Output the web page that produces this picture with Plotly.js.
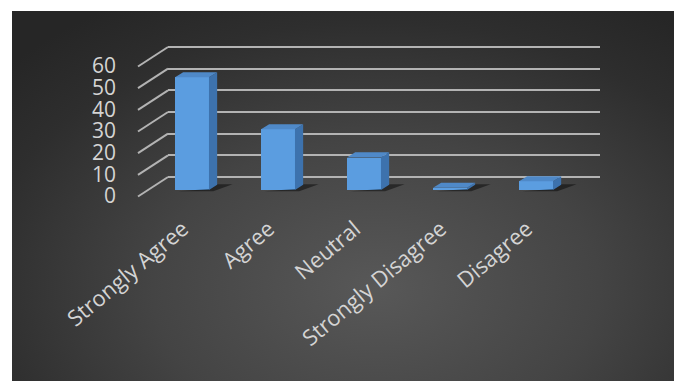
<!DOCTYPE html>
<html>
<head>
<meta charset="utf-8">
<script src="https://cdn.plot.ly/plotly-3.0.1.min.js"></script>
<style>
  html, body { margin:0; padding:0; background:#ffffff; }
  #bg { position:absolute; left:12px; top:11px; width:662px; height:370px;
        background: radial-gradient(ellipse 75% 90% at 55% 75%, #585858 0%, #444444 45%, #2e2e2e 80%, #262626 100%); }
  #chart { position:absolute; left:0; top:0; width:685px; height:381px; }
</style>
</head>
<body>
<div id="bg"></div>
<div id="chart"></div>
<script>
// ---- data ----
const categories = ["Strongly Agree", "Agree", "Neutral", "Strongly Disagree", "Disagree"];
const values = [52, 28, 15, 1, 4];
const yTicks = [0, 10, 20, 30, 40, 50, 60];

// ---- 3D look parameters (in axis units) ----
const barW = 0.395;   // front face width
const depthX = 0.095; // side face depth along x
const depthY = 2.4;   // side face depth along y
const gridBack = 6.0; // back wall offset of gridlines
const gridFront = -3.0; // front floor position of gridlines

const xs = categories.map((c, i) => i);

function polys(fn) {
  const px = [], py = [];
  xs.forEach((x, i) => {
    const p = fn(x, values[i]);
    p.forEach(pt => { px.push(pt[0]); py.push(pt[1]); });
    px.push(null); py.push(null);
  });
  return {x: px, y: py};
}

const shadowFace = polys((x, v) => {
  const r = x + barW / 2;
  return [[x - barW / 2 + 0.04, -0.6], [r + 0.05, -0.6], [r + depthX + 0.18, depthY + 0.3], [r + depthX, depthY + 0.3], [r, 0.5]];
});
const sideFace = polys((x, v) => {
  const r = x + barW / 2;
  return [[r, 0], [r + depthX, depthY], [r + depthX, v + depthY], [r, v]];
});
const topFace = polys((x, v) => {
  const l = x - barW / 2, r = x + barW / 2;
  return [[l, v], [l + depthX, v + depthY], [r + depthX, v + depthY], [r, v]];
});

const traces = [
  {type:'scatter', mode:'lines', x: shadowFace.x, y: shadowFace.y, fill:'toself',
   fillcolor:'rgba(0,0,0,0.45)', line:{width:0}, hoverinfo:'skip', showlegend:false},
  {type:'scatter', mode:'lines', x: sideFace.x, y: sideFace.y, fill:'toself',
   fillcolor:'#3d72ad', line:{width:0}, hoverinfo:'skip', showlegend:false},
  {type:'scatter', mode:'lines', x: topFace.x, y: topFace.y, fill:'toself',
   fillcolor:'#4f89c8', line:{width:0}, hoverinfo:'skip', showlegend:false},
  {type:'bar', x: xs, y: values, width: barW,
   marker:{color:'#5b9de0', line:{width:0}}, hoverinfo:'skip', showlegend:false}
];

// diagonal floor/side-wall lines for each gridline
const shapes = yTicks.map(v => ({
  type:'line', xref:'paper', yref:'y',
  x0: -30 / 432, y0: v + gridFront, x1: 0, y1: v + gridBack,
  line:{color:'#b3b3b3', width:2}
}));

const layout = {
  width: 685, height: 381,
  margin: {l:168, r:85, t:40, b:181},
  paper_bgcolor:'rgba(0,0,0,0)', plot_bgcolor:'rgba(0,0,0,0)',
  font: {family:'Open Sans, sans-serif', color:'#d4d4d4'},
  showlegend:false,
  hovermode:false,
  bargap:0,
  xaxis: {
    range:[-0.279, 4.744], showgrid:false, zeroline:false, showline:false,
    tickvals: xs, ticktext: categories, tickangle:-40,
    tickfont:{size:22, color:'#d4d4d4'}, ticks:'',
    ticklabelstandoff: 11, ticklabelshift: -9, fixedrange:true
  },
  yaxis: {
    range:[-4.615, 69.23], showgrid:true, gridcolor:'#b3b3b3', gridwidth:2,
    zeroline:false, showline:false, ticks:'',
    tickvals: yTicks.map(v => v + gridBack), ticktext: yTicks.map(String),
    tickfont:{size:21, color:'#d4d4d4'},
    ticklabelshift: 19, ticklabelstandoff: 51, fixedrange:true
  },
  shapes: shapes
};

Plotly.newPlot('chart', traces, layout, {displayModeBar:false, staticPlot:true});
</script>
</body>
</html>
